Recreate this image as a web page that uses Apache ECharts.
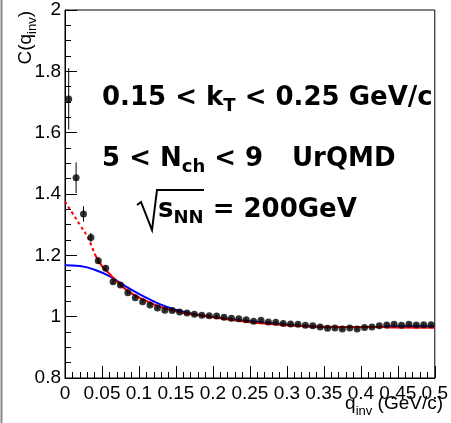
<!DOCTYPE html>
<html><head><meta charset="utf-8">
<script src="https://cdn.jsdelivr.net/npm/echarts@6/dist/echarts.min.js"></script>
<style>html,body{margin:0;padding:0;background:#fff}#c{width:451px;height:423px}</style>
</head><body><div id="c"></div>
<script>
// data points (bin centres) and values
const qPts = [0.005,0.015,0.025,0.035,0.045,0.055,0.065,0.075,0.085,0.095,
  0.105,0.115,0.125,0.135,0.145,0.155,0.165,0.175,0.185,0.195,
  0.205,0.215,0.225,0.235,0.245,0.255,0.265,0.275,0.285,0.295,
  0.305,0.315,0.325,0.335,0.345,0.355,0.365,0.375,0.385,0.395,
  0.405,0.415,0.425,0.435,0.445,0.455,0.465,0.475,0.485,0.495];
const cVals = [1.710,1.453,1.335,1.258,1.182,1.158,1.114,1.103,1.078,1.062,
  1.049,1.038,1.028,1.021,1.020,1.015,1.012,1.008,1.005,1.003,
  1.002,0.998,0.995,0.993,0.990,0.985,0.988,0.983,0.982,0.978,
  0.976,0.975,0.972,0.970,0.966,0.962,0.963,0.960,0.963,0.960,
  0.965,0.966,0.970,0.973,0.975,0.972,0.975,0.973,0.974,0.974];
const cErr = [0.10,0.05,0.025,0.015,0.01,0.008,0.007,0.006,0.005,0.005,
  0.004,0.004,0.004,0.004,0.004,0.004,0.004,0.004,0.004,0.004,
  0.004,0.004,0.004,0.004,0.004,0.004,0.004,0.004,0.004,0.004,
  0.004,0.004,0.004,0.004,0.004,0.004,0.004,0.004,0.004,0.004,
  0.004,0.004,0.004,0.004,0.004,0.004,0.004,0.004,0.004,0.004];
// red fit (dashed part, then solid part)
const redDashQ = [0,0.01,0.02,0.03,0.04];
const redDashV = [1.375,1.338,1.300,1.262,1.205];
const redQ = [0.04,0.05,0.06,0.07,0.08,0.09,0.10,0.12,0.14,0.16,0.18,0.20,0.25,0.30,0.35,0.40,0.43,0.435,0.50];
const redV = [1.205,1.165,1.140,1.115,1.093,1.076,1.063,1.040,1.024,1.012,1.005,0.998,0.982,0.972,0.967,0.966,0.966,0.965,0.964];
// blue fit
const blueQ = [0,0.02,0.04,0.06,0.08,0.10,0.12,0.14,0.16,0.18,0.20,0.25,0.30,0.35,0.40,0.43,0.435,0.50];
const blueV = [1.168,1.165,1.153,1.132,1.102,1.074,1.050,1.030,1.016,1.006,0.999,0.985,0.974,0.966,0.966,0.966,0.969,0.969];

const zip = (a,b)=>a.map((v,i)=>[v,b[i]]);
const FONT = '"Liberation Sans", Arial, Helvetica, sans-serif';
const BFONT = '"DejaVu Sans", "Liberation Sans", sans-serif';
const fmt = v => String(parseFloat(v.toFixed(3)));

const chart = echarts.init(document.getElementById('c'), null, {renderer:'canvas'});
chart.setOption({
  backgroundColor:'#fff',
  animation:false,
  grid:{left:65, top:10, right:8, bottom:45, show:true, borderColor:'#000', borderWidth:1, backgroundColor:'transparent'},
  xAxis:{type:'value', min:0, max:0.5, interval:0.05,
    axisLine:{show:true, lineStyle:{color:'#000', width:1}},
    axisTick:{inside:true, length:12, lineStyle:{color:'#000'}},
    minorTick:{show:true, splitNumber:5, length:6, lineStyle:{color:'#000'}},
    splitLine:{show:false},
    axisLabel:{color:'#000', fontFamily:FONT, fontSize:19, margin:6, formatter:fmt, showMaxLabel:true, showMinLabel:true}},
  yAxis:{type:'value', min:0.8, max:2, interval:0.2,
    axisLine:{show:true, lineStyle:{color:'#000', width:1}},
    axisTick:{inside:true, length:12, lineStyle:{color:'#000'}},
    minorTick:{show:true, splitNumber:4, length:6, lineStyle:{color:'#000'}},
    splitLine:{show:false},
    axisLabel:{color:'#000', fontFamily:FONT, fontSize:19, margin:4, formatter:fmt}},
  series:[
    {type:'line', data:zip(blueQ,blueV), smooth:true, showSymbol:false, z:3,
      lineStyle:{color:'#0000ff', width:2}},
    {type:'line', data:zip(redDashQ,redDashV), smooth:true, showSymbol:false, z:4,
      lineStyle:{color:'#ff0000', width:2, type:[3,3]}},
    {type:'line', data:zip(redQ,redV), smooth:true, showSymbol:false, z:4,
      lineStyle:{color:'#ff0000', width:2}},
    {type:'custom', z:5, data:qPts.map((q,i)=>[q,cVals[i],cErr[i]]),
      renderItem:(params, api)=>{
        const x=api.value(0), y=api.value(1), e=api.value(2);
        const p1=api.coord([x,y-e]), p2=api.coord([x,y+e]);
        return {type:'line', shape:{x1:p1[0],y1:p1[1],x2:p2[0],y2:p2[1]}, style:{stroke:'#000', lineWidth:1}};
      }},
    {type:'scatter', data:zip(qPts,cVals), symbol:'circle', symbolSize:7, z:6,
      itemStyle:{color:'#000'}}
  ],
  graphic:[
    {type:'line', shape:{x1:1.5,y1:0,x2:1.5,y2:423}, style:{stroke:'#888', lineWidth:2}},
    {type:'text', x:26, y:11, rotation:Math.PI/2,
      style:{text:'C(q{s|inv})', fontFamily:FONT, fontSize:19, fill:'#000', align:'right', verticalAlign:'middle',
        rich:{s:{fontSize:13, fontFamily:FONT, verticalAlign:'bottom', padding:[12,0,0,0]}}}},
    {type:'text', x:443, y:404,
      style:{text:'q{s|inv} (GeV/c)', fontFamily:FONT, fontSize:19, fill:'#000', align:'right', verticalAlign:'middle',
        rich:{s:{fontSize:13, fontFamily:FONT, padding:[14,0,0,0]}}}},
    {type:'text', x:102, y:98,
      style:{text:'0.15 < k{s|T} < 0.25 GeV/c', fontFamily:BFONT, fontWeight:'bold', fontSize:26, fill:'#000', verticalAlign:'middle',
        rich:{s:{fontSize:18, fontWeight:'bold', fontFamily:BFONT, padding:[16,0,0,0]}}}},
    {type:'text', x:102, y:159,
      style:{text:'5 < N{s|ch} < 9', fontFamily:BFONT, fontWeight:'bold', fontSize:26, fill:'#000', verticalAlign:'middle',
        rich:{s:{fontSize:18, fontWeight:'bold', fontFamily:BFONT, padding:[16,0,0,0]}}}},
    {type:'text', x:292, y:159,
      style:{text:'UrQMD', fontFamily:BFONT, fontWeight:'bold', fontSize:26, fill:'#000', verticalAlign:'middle'}},
    {type:'polyline', shape:{points:[[137,205],[141,202],[152,230],[157,190],[204,190]]}, style:{stroke:'#000', lineWidth:2, fill:null}},
    {type:'text', x:158, y:210,
      style:{text:'s{s|NN} = 200GeV', fontFamily:BFONT, fontWeight:'bold', fontSize:26, fill:'#000', verticalAlign:'middle',
        rich:{s:{fontSize:18, fontWeight:'bold', fontFamily:BFONT, padding:[16,0,0,0]}}}}
  ]
});
</script></body></html>
